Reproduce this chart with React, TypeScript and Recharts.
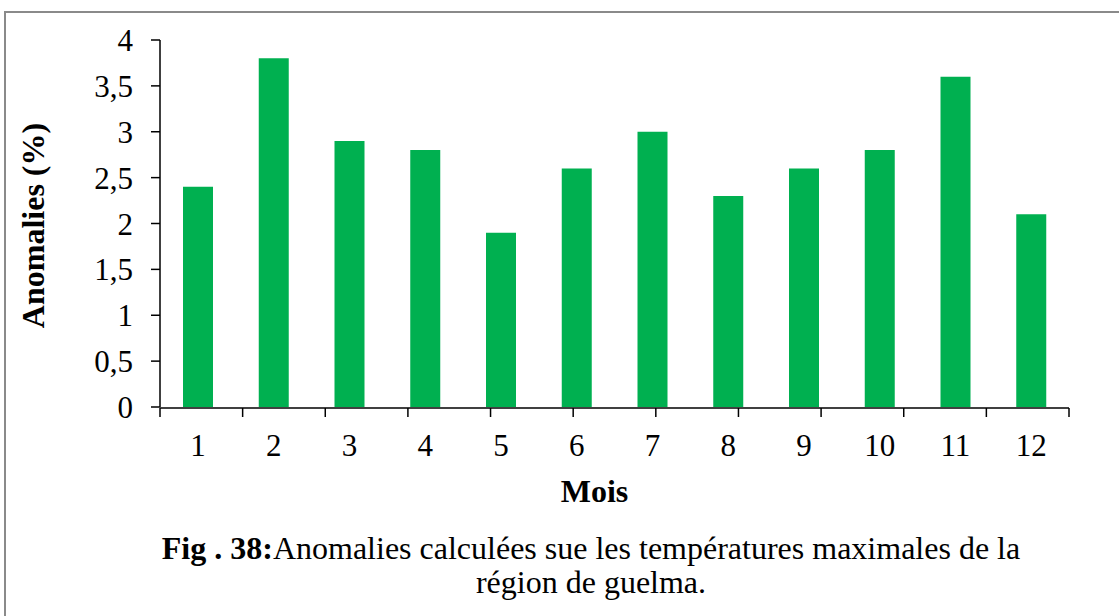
import React from "react";
import { BarChart, Bar, XAxis, YAxis, Label } from "recharts";

const months: string[] = ["1", "2", "3", "4", "5", "6", "7", "8", "9", "10", "11", "12"];
const anomalies: number[] = [2.4, 3.8, 2.9, 2.8, 1.9, 2.6, 3.0, 2.3, 2.6, 2.8, 3.6, 2.1];
const yTicks: number[] = [0, 0.5, 1, 1.5, 2, 2.5, 3, 3.5, 4];
const boundaryTicks: number[] = [0, 1, 2, 3, 4, 5, 6, 7, 8, 9, 10, 11, 12];
const yTitle = "Anomalies (%)";
const xTitle = "Mois";
const captionBold = "Fig . 38:";
const captionLine1 = "Anomalies calculées sue les températures maximales de la";
const captionLine2 = "région de guelma.";

const data = months.map((m, i) => ({ month: m, value: anomalies[i] }));

const FONT = "'Liberation Serif', 'Times New Roman', serif";

export default function App() {
  return (
    <div
      style={{
        position: "absolute",
        left: 0,
        top: 0,
        width: 1119,
        height: 616,
        overflow: "hidden",
        background: "#fff",
        fontFamily: FONT,
      }}
    >
      <div
        style={{
          position: "absolute",
          left: 4,
          top: 11,
          width: 1300,
          height: 800,
          border: "2px solid #8a8a8a",
        }}
      />
      <div style={{ position: "absolute", left: 0, top: 0 }}>
        <BarChart
          width={1119}
          height={616}
          data={data}
          margin={{ top: 40, right: 50, left: 0, bottom: 207 }}
        >
          <YAxis
            type="number"
            domain={[0, 4]}
            ticks={yTicks}
            width={160}
            interval={0}
            tickSize={9}
            tickMargin={18}
            axisLine={{ stroke: "#000", strokeWidth: 1.5 }}
            tickLine={{ stroke: "#000", strokeWidth: 1.5 }}
            tick={{ fill: "#000", fontSize: 31, fontFamily: FONT }}
            tickFormatter={(v: number) => String(v).replace(".", ",")}
          >
            <Label
              content={(props: any) => {
                const vb = props.viewBox || {};
                const cx = vb.x + 44;
                const cy = vb.y + vb.height / 2 + 2;
                return (
                  <text
                    x={cx}
                    y={cy}
                    transform={`rotate(-90, ${cx}, ${cy})`}
                    textAnchor="middle"
                    fontFamily={FONT}
                    fontWeight="bold"
                    fontSize={32}
                    fill="#000"
                  >
                    {yTitle}
                  </text>
                );
              }}
            />
          </YAxis>
          <XAxis
            xAxisId="grid"
            type="number"
            domain={[0, 12]}
            ticks={boundaryTicks}
            interval={0}
            height={1}
            allowDataOverflow
            tickSize={9}
            axisLine={{ stroke: "#000", strokeWidth: 1.5 }}
            tickLine={{ stroke: "#000", strokeWidth: 1.5 }}
            tickFormatter={() => ""}
          />
          <XAxis
            xAxisId="cat"
            dataKey="month"
            type="category"
            height={1}
            interval={0}
            axisLine={false}
            tickLine={false}
            tickSize={9}
            tickMargin={18}
            tick={{ fill: "#000", fontSize: 31, fontFamily: FONT }}
          >
            <Label
              content={(props: any) => {
                const vb = props.viewBox || {};
                const cx = vb.x + vb.width / 2 - 20;
                const cy = vb.y + 95;
                return (
                  <text
                    x={cx}
                    y={cy}
                    textAnchor="middle"
                    fontFamily={FONT}
                    fontWeight="bold"
                    fontSize={32}
                    fill="#000"
                  >
                    {xTitle}
                  </text>
                );
              }}
            />
          </XAxis>
          <Bar
            xAxisId="cat"
            dataKey="value"
            fill="#00B050"
            barSize={30}
            isAnimationActive={false}
          />
        </BarChart>
      </div>
      <div
        style={{
          position: "absolute",
          left: 62,
          top: 531,
          width: 1058,
          textAlign: "center",
          fontSize: 32,
          lineHeight: "34px",
          color: "#000",
          fontFamily: FONT,
        }}
      >
        <span style={{ fontWeight: "bold" }}>{captionBold}</span>
        {captionLine1}
        <br />
        {captionLine2}
      </div>
    </div>
  );
}
